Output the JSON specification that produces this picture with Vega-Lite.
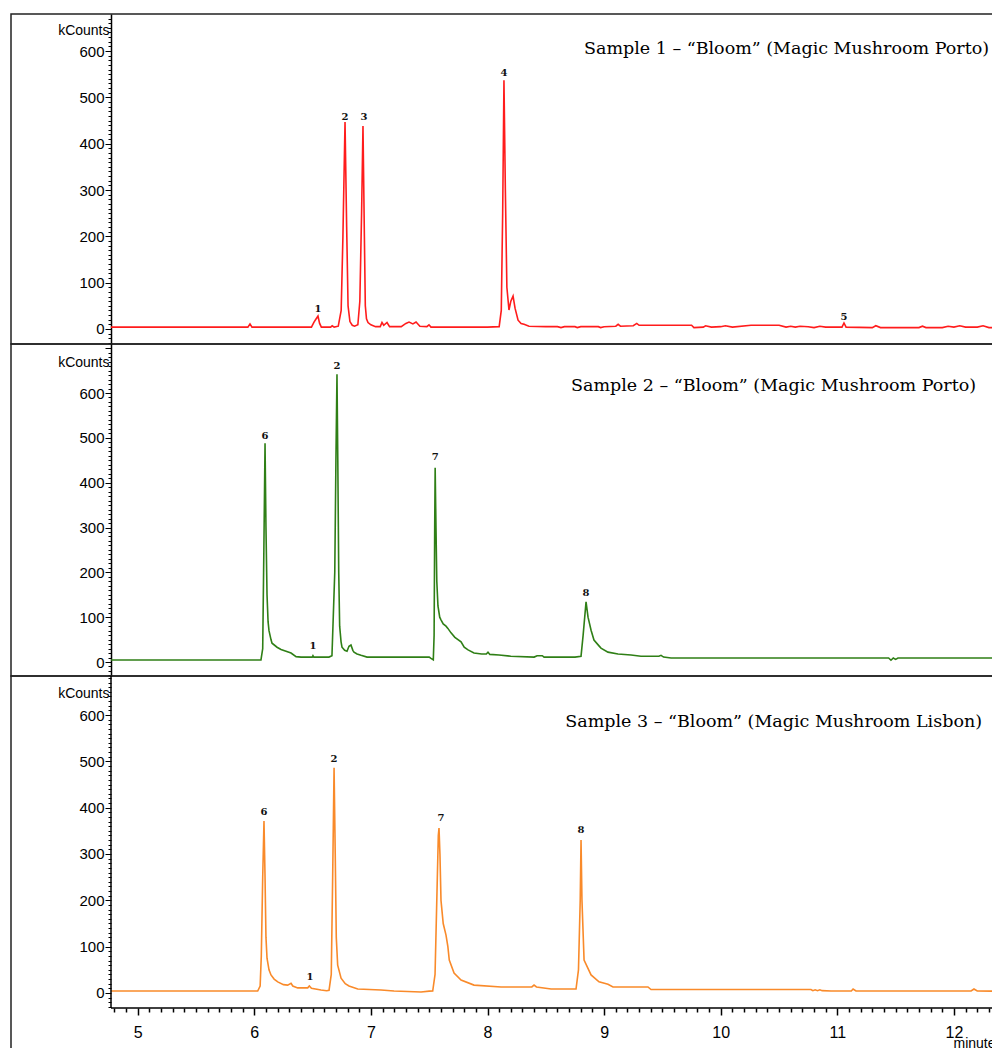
{
  "$schema": "https://vega.github.io/schema/vega-lite/v6.json",
  "padding": {"left": 10, "top": 10, "right": 0, "bottom": 0},
  "spacing": 0,
  "bounds": "flush",
  "config": {
    "view": {"stroke": "#222", "strokeWidth": 1.5},
    "concat": {"spacing": 0}
  },
  "datasets": {
    "s1": [
      {"t":4.771,"v":4},{"t":5.2,"v":4},{"t":5.5,"v":4},{"t":5.945,"v":4},{"t":5.963,"v":11},{"t":5.98,"v":4},{"t":6.3,"v":4},{"t":6.49,"v":4},{"t":6.512,"v":15},{"t":6.525,"v":20},{"t":6.546,"v":28},{"t":6.56,"v":12},{"t":6.575,"v":4},{"t":6.655,"v":4},{"t":6.668,"v":7},{"t":6.685,"v":4},{"t":6.72,"v":6},{"t":6.745,"v":40},{"t":6.76,"v":200},{"t":6.778,"v":447},{"t":6.792,"v":220},{"t":6.804,"v":50},{"t":6.82,"v":16},{"t":6.84,"v":8},{"t":6.86,"v":6},{"t":6.888,"v":9},{"t":6.905,"v":60},{"t":6.92,"v":250},{"t":6.932,"v":438},{"t":6.944,"v":200},{"t":6.952,"v":50},{"t":6.962,"v":22},{"t":6.975,"v":14},{"t":7.0,"v":9},{"t":7.04,"v":5},{"t":7.08,"v":5},{"t":7.095,"v":14},{"t":7.11,"v":8},{"t":7.138,"v":14},{"t":7.16,"v":5},{"t":7.26,"v":5},{"t":7.3,"v":12},{"t":7.327,"v":15},{"t":7.36,"v":11},{"t":7.387,"v":15},{"t":7.42,"v":6},{"t":7.48,"v":5},{"t":7.498,"v":9},{"t":7.515,"v":4},{"t":8.0,"v":4},{"t":8.1,"v":5},{"t":8.118,"v":40},{"t":8.13,"v":250},{"t":8.141,"v":537},{"t":8.153,"v":300},{"t":8.166,"v":90},{"t":8.184,"v":41},{"t":8.2,"v":60},{"t":8.219,"v":71},{"t":8.236,"v":45},{"t":8.262,"v":19},{"t":8.288,"v":12},{"t":8.313,"v":10},{"t":8.356,"v":6},{"t":8.5,"v":5},{"t":8.6,"v":5},{"t":8.63,"v":3},{"t":8.66,"v":5},{"t":8.75,"v":5},{"t":8.77,"v":3},{"t":8.8,"v":5},{"t":8.95,"v":5},{"t":8.97,"v":3},{"t":9.0,"v":5},{"t":9.1,"v":6},{"t":9.12,"v":10},{"t":9.14,"v":6},{"t":9.25,"v":7},{"t":9.28,"v":12},{"t":9.3,"v":8},{"t":9.6,"v":8},{"t":9.75,"v":8},{"t":9.77,"v":3},{"t":9.85,"v":4},{"t":9.87,"v":7},{"t":9.92,"v":4},{"t":10.0,"v":5},{"t":10.04,"v":7},{"t":10.1,"v":4},{"t":10.26,"v":8},{"t":10.5,"v":8},{"t":10.56,"v":4},{"t":10.6,"v":6},{"t":10.64,"v":4},{"t":10.68,"v":6},{"t":10.75,"v":5},{"t":10.8,"v":3},{"t":10.85,"v":6},{"t":10.9,"v":4},{"t":11.04,"v":4},{"t":11.057,"v":13},{"t":11.075,"v":4},{"t":11.3,"v":3},{"t":11.33,"v":7},{"t":11.37,"v":3},{"t":11.7,"v":3},{"t":11.73,"v":6},{"t":11.76,"v":3},{"t":11.9,"v":3},{"t":11.95,"v":6},{"t":12.0,"v":4},{"t":12.05,"v":7},{"t":12.1,"v":4},{"t":12.2,"v":4},{"t":12.25,"v":7},{"t":12.3,"v":3},{"t":12.335,"v":3}
    ],
    "s2": [
      {"t":4.771,"v":4.5},{"t":5.5,"v":4.5},{"t":6.057,"v":4.5},{"t":6.072,"v":30},{"t":6.082,"v":250},{"t":6.092,"v":488},{"t":6.1,"v":300},{"t":6.109,"v":150},{"t":6.118,"v":90},{"t":6.126,"v":70},{"t":6.143,"v":50},{"t":6.152,"v":42},{"t":6.195,"v":33},{"t":6.229,"v":28},{"t":6.272,"v":24},{"t":6.315,"v":20},{"t":6.358,"v":12},{"t":6.401,"v":11},{"t":6.45,"v":11},{"t":6.497,"v":11},{"t":6.503,"v":14},{"t":6.51,"v":11},{"t":6.64,"v":11},{"t":6.666,"v":14},{"t":6.69,"v":200},{"t":6.7,"v":450},{"t":6.709,"v":642},{"t":6.716,"v":450},{"t":6.724,"v":200},{"t":6.732,"v":80},{"t":6.744,"v":45},{"t":6.752,"v":33},{"t":6.775,"v":26},{"t":6.795,"v":24},{"t":6.812,"v":35},{"t":6.829,"v":38},{"t":6.845,"v":26},{"t":6.855,"v":22},{"t":6.881,"v":18},{"t":6.915,"v":15},{"t":6.967,"v":11},{"t":7.1,"v":11},{"t":7.5,"v":11},{"t":7.515,"v":8},{"t":7.535,"v":5},{"t":7.542,"v":60},{"t":7.547,"v":300},{"t":7.551,"v":433},{"t":7.558,"v":300},{"t":7.565,"v":180},{"t":7.575,"v":125},{"t":7.59,"v":100},{"t":7.601,"v":94},{"t":7.62,"v":85},{"t":7.644,"v":80},{"t":7.66,"v":75},{"t":7.687,"v":65},{"t":7.72,"v":55},{"t":7.773,"v":45},{"t":7.8,"v":33},{"t":7.833,"v":27},{"t":7.884,"v":20},{"t":7.95,"v":18},{"t":7.99,"v":18},{"t":8.004,"v":22},{"t":8.02,"v":17},{"t":8.099,"v":15.6},{"t":8.2,"v":13},{"t":8.4,"v":11},{"t":8.425,"v":14},{"t":8.47,"v":14},{"t":8.485,"v":11},{"t":8.75,"v":11},{"t":8.802,"v":13},{"t":8.82,"v":60},{"t":8.845,"v":134},{"t":8.862,"v":100},{"t":8.888,"v":71},{"t":8.913,"v":49},{"t":8.956,"v":36},{"t":8.973,"v":31},{"t":9.033,"v":22},{"t":9.119,"v":17.8},{"t":9.231,"v":15.6},{"t":9.316,"v":13},{"t":9.47,"v":13},{"t":9.488,"v":15},{"t":9.51,"v":11},{"t":9.574,"v":9},{"t":10.5,"v":9},{"t":11.44,"v":9},{"t":11.46,"v":4},{"t":11.48,"v":9},{"t":11.5,"v":6},{"t":11.52,"v":9},{"t":12.335,"v":9}
    ],
    "s3": [
      {"t":4.771,"v":4.3},{"t":5.5,"v":4.3},{"t":6.029,"v":4.3},{"t":6.05,"v":15},{"t":6.06,"v":80},{"t":6.072,"v":250},{"t":6.083,"v":371},{"t":6.092,"v":250},{"t":6.1,"v":120},{"t":6.109,"v":75},{"t":6.126,"v":50},{"t":6.143,"v":39},{"t":6.17,"v":30},{"t":6.201,"v":24},{"t":6.25,"v":18},{"t":6.286,"v":17},{"t":6.315,"v":21},{"t":6.33,"v":15},{"t":6.372,"v":11},{"t":6.458,"v":11},{"t":6.472,"v":15},{"t":6.49,"v":10},{"t":6.572,"v":6.5},{"t":6.62,"v":5},{"t":6.641,"v":6},{"t":6.66,"v":40},{"t":6.672,"v":250},{"t":6.684,"v":486},{"t":6.694,"v":300},{"t":6.703,"v":120},{"t":6.715,"v":60},{"t":6.744,"v":32},{"t":6.78,"v":20},{"t":6.812,"v":15},{"t":6.887,"v":8.6},{"t":7.087,"v":6.5},{"t":7.198,"v":4.3},{"t":7.43,"v":2},{"t":7.5,"v":4},{"t":7.53,"v":4.3},{"t":7.55,"v":40},{"t":7.565,"v":200},{"t":7.578,"v":340},{"t":7.584,"v":356},{"t":7.592,"v":300},{"t":7.601,"v":200},{"t":7.62,"v":150},{"t":7.644,"v":125},{"t":7.66,"v":100},{"t":7.672,"v":71},{"t":7.713,"v":43},{"t":7.773,"v":28},{"t":7.884,"v":17},{"t":8.116,"v":13},{"t":8.38,"v":13},{"t":8.399,"v":17},{"t":8.42,"v":13},{"t":8.545,"v":8.6},{"t":8.759,"v":8.6},{"t":8.78,"v":50},{"t":8.795,"v":200},{"t":8.802,"v":330},{"t":8.81,"v":200},{"t":8.828,"v":71},{"t":8.888,"v":39},{"t":8.956,"v":24},{"t":9.033,"v":19},{"t":9.076,"v":13},{"t":9.376,"v":13},{"t":9.402,"v":7.5},{"t":10.774,"v":7.5},{"t":10.79,"v":5},{"t":10.81,"v":7},{"t":10.83,"v":5},{"t":10.85,"v":7},{"t":10.87,"v":5},{"t":10.946,"v":4.3},{"t":11.12,"v":4.3},{"t":11.135,"v":8.6},{"t":11.16,"v":4.3},{"t":12.147,"v":4.3},{"t":12.172,"v":8.6},{"t":12.2,"v":4.3},{"t":12.335,"v":4}
    ],
    "labels": [
      {"panel":1,"t":6.546,"v":43,"label":"1"},
      {"panel":1,"t":6.778,"v":458,"label":"2"},
      {"panel":1,"t":6.941,"v":458,"label":"3"},
      {"panel":1,"t":8.141,"v":553,"label":"4"},
      {"panel":1,"t":11.057,"v":26,"label":"5"},
      {"panel":2,"t":6.092,"v":504,"label":"6"},
      {"panel":2,"t":6.503,"v":36,"label":"1"},
      {"panel":2,"t":6.709,"v":660,"label":"2"},
      {"panel":2,"t":7.551,"v":457,"label":"7"},
      {"panel":2,"t":8.845,"v":154,"label":"8"},
      {"panel":3,"t":6.083,"v":391,"label":"6"},
      {"panel":3,"t":6.478,"v":35,"label":"1"},
      {"panel":3,"t":6.684,"v":505,"label":"2"},
      {"panel":3,"t":7.601,"v":378,"label":"7"},
      {"panel":3,"t":8.802,"v":352,"label":"8"}
    ],
    "titles": [
      {"panel":1,"t":12.301,"v":604,"label":"Sample 1 – “Bloom” (Magic Mushroom Porto)"},
      {"panel":2,"t":12.19,"v":616,"label":"Sample 2 – “Bloom” (Magic Mushroom Porto)"},
      {"panel":3,"t":12.241,"v":585,"label":"Sample 3 – “Bloom” (Magic Mushroom Lisbon)"}
    ]
  },
  "vconcat": [
    {
      "width": 982, "height": 330,
      "layer": [
        {
          "data": {"name": "s1"},
          "mark": {"type": "line", "color": "#ff1c1c", "strokeWidth": 1.6, "clip": true},
          "encoding": {
            "x": {"field": "t", "type": "quantitative", "scale": {"domain": [3.9134, 12.335], "nice": false, "zero": false}, "axis": null},
            "y": {"field": "v", "type": "quantitative", "scale": {"domain": [-32.4, 679.9], "nice": false, "zero": false},
              "axis": {"title": "kCounts", "titleAngle": 0, "titleAlign": "right", "titleBaseline": "middle", "titleX": -2, "titleY": 16, "titleFont": "Liberation Sans", "titleFontSize": 14, "titleFontWeight": "normal", "titleColor": "#000",
                "offset": -100, "tickCount": 70, "grid": false, "labelOverlap": false, "labelFlush": false,
                "labelExpr": "datum.value % 100 === 0 && datum.value <= 600 ? datum.label : ''",
                "tickSize": {"condition": {"test": "datum.value % 100 === 0", "value": 6}, "value": 3},
                "labelFont": "Liberation Sans", "labelFontSize": 15, "labelColor": "#000", "labelPadding": 1,
                "tickColor": "#000", "domainColor": "#000", "domainWidth": 1.5}}
          }
        },
        {
          "data": {"name": "labels"},
          "transform": [{"filter": "datum.panel == 1"}],
          "mark": {"type": "text", "font": "DejaVu Serif", "fontWeight": "bold", "fontSize": 10, "color": "#111"},
          "encoding": {"x": {"field": "t", "type": "quantitative"}, "y": {"field": "v", "type": "quantitative"}, "text": {"field": "label"}}
        },
        {
          "data": {"name": "titles"},
          "transform": [{"filter": "datum.panel == 1"}],
          "mark": {"type": "text", "align": "right", "baseline": "middle", "font": "DejaVu Serif", "fontSize": 17.5, "color": "#000"},
          "encoding": {"x": {"field": "t", "type": "quantitative"}, "y": {"field": "v", "type": "quantitative"}, "text": {"field": "label"}}
        }
      ]
    },
    {
      "width": 982, "height": 332,
      "layer": [
        {
          "data": {"name": "s2"},
          "mark": {"type": "line", "color": "#2f7f16", "strokeWidth": 1.6, "clip": true},
          "encoding": {
            "x": {"field": "t", "type": "quantitative", "scale": {"domain": [3.9134, 12.335], "nice": false, "zero": false}, "axis": null},
            "y": {"field": "v", "type": "quantitative", "scale": {"domain": [-31.2, 709.3], "nice": false, "zero": false},
              "axis": {"title": "kCounts", "titleAngle": 0, "titleAlign": "right", "titleBaseline": "middle", "titleX": -2, "titleY": 18, "titleFont": "Liberation Sans", "titleFontSize": 14, "titleFontWeight": "normal", "titleColor": "#000",
                "offset": -100, "tickCount": 74, "grid": false, "labelOverlap": false, "labelFlush": false,
                "labelExpr": "datum.value % 100 === 0 && datum.value <= 600 ? datum.label : ''",
                "tickSize": {"condition": {"test": "datum.value % 100 === 0", "value": 6}, "value": 3},
                "labelFont": "Liberation Sans", "labelFontSize": 15, "labelColor": "#000", "labelPadding": 1,
                "tickColor": "#000", "domainColor": "#000", "domainWidth": 1.5}}
          }
        },
        {
          "data": {"name": "labels"},
          "transform": [{"filter": "datum.panel == 2"}],
          "mark": {"type": "text", "font": "DejaVu Serif", "fontWeight": "bold", "fontSize": 10, "color": "#111"},
          "encoding": {"x": {"field": "t", "type": "quantitative"}, "y": {"field": "v", "type": "quantitative"}, "text": {"field": "label"}}
        },
        {
          "data": {"name": "titles"},
          "transform": [{"filter": "datum.panel == 2"}],
          "mark": {"type": "text", "align": "right", "baseline": "middle", "font": "DejaVu Serif", "fontSize": 17.5, "color": "#000"},
          "encoding": {"x": {"field": "t", "type": "quantitative"}, "y": {"field": "v", "type": "quantitative"}, "text": {"field": "label"}}
        }
      ]
    },
    {
      "width": 982, "height": 373,
      "layer": [
        {
          "data": {"name": "s3"},
          "mark": {"type": "line", "color": "#f98a2a", "strokeWidth": 1.6, "clip": true},
          "encoding": {
            "x": {"field": "t", "type": "quantitative", "scale": {"domain": [3.9134, 12.335], "nice": false, "zero": false},
              "axis": {"values": [4.8,4.9,5,5.1,5.2,5.3,5.4,5.5,5.6,5.7,5.8,5.9,6,6.1,6.2,6.3,6.4,6.5,6.6,6.7,6.8,6.9,7,7.1,7.2,7.3,7.4,7.5,7.6,7.7,7.8,7.9,8,8.1,8.2,8.3,8.4,8.5,8.6,8.7,8.8,8.9,9,9.1,9.2,9.3,9.4,9.5,9.6,9.7,9.8,9.9,10,10.1,10.2,10.3,10.4,10.5,10.6,10.7,10.8,10.9,11,11.1,11.2,11.3,11.4,11.5,11.6,11.7,11.8,11.9,12,12.1,12.2,12.3],
                "tickCount": 500,
                "offset": -41, "domain": false, "grid": false, "labelOverlap": false, "labelFlush": false,
                "tickSize": {"condition": {"test": "abs(datum.value - round(datum.value)) < 0.001", "value": 7}, "value": 4},
                "labelExpr": "abs(datum.value - round(datum.value)) < 0.001 ? toString(round(datum.value)) : ''",
                "labelFont": "Liberation Sans", "labelFontSize": 16, "labelColor": "#000", "labelPadding": 9,
                "tickColor": "#000", "tickWidth": 1.5,
                "title": "minutes", "titleX": 942, "titleY": 39, "titleAlign": "left", "titleBaseline": "alphabetic", "titleFont": "Liberation Sans", "titleFontSize": 14, "titleFontWeight": "normal", "titleColor": "#000"}},
            "y": {"field": "v", "type": "quantitative", "scale": {"domain": [-120.9, 684.2], "nice": false, "zero": false},
              "axis": {"title": "kCounts", "titleAngle": 0, "titleAlign": "right", "titleBaseline": "middle", "titleX": -2, "titleY": 17, "titleFont": "Liberation Sans", "titleFontSize": 14, "titleFontWeight": "normal", "titleColor": "#000",
                "offset": -100, "tickCount": 80, "grid": false, "labelOverlap": false, "labelFlush": false, "domain": false,
                "labelExpr": "datum.value % 100 === 0 && datum.value >= 0 && datum.value <= 600 ? datum.label : ''",
                "tickSize": {"condition": {"test": "datum.value % 100 === 0", "value": 6}, "value": 3},
                "tickOpacity": {"condition": {"test": "datum.value < -33", "value": 0}, "value": 1},
                "labelFont": "Liberation Sans", "labelFontSize": 15, "labelColor": "#000", "labelPadding": 1,
                "tickColor": "#000"}}
          }
        },
        {
          "data": {"values": [{"x1": 4.771, "x2": 12.335, "y": -32.4}]},
          "mark": {"type": "rule", "color": "#000", "strokeWidth": 1.5},
          "encoding": {"x": {"field": "x1", "type": "quantitative"}, "x2": {"field": "x2"}, "y": {"field": "y", "type": "quantitative"}}
        },
        {
          "data": {"values": [{"x": 4.771, "y1": -32.4, "y2": 684.2}]},
          "mark": {"type": "rule", "color": "#000", "strokeWidth": 1.5},
          "encoding": {"x": {"field": "x", "type": "quantitative"}, "y": {"field": "y1", "type": "quantitative"}, "y2": {"field": "y2"}}
        },
        {
          "data": {"name": "labels"},
          "transform": [{"filter": "datum.panel == 3"}],
          "mark": {"type": "text", "font": "DejaVu Serif", "fontWeight": "bold", "fontSize": 10, "color": "#111"},
          "encoding": {"x": {"field": "t", "type": "quantitative"}, "y": {"field": "v", "type": "quantitative"}, "text": {"field": "label"}}
        },
        {
          "data": {"name": "titles"},
          "transform": [{"filter": "datum.panel == 3"}],
          "mark": {"type": "text", "align": "right", "baseline": "middle", "font": "DejaVu Serif", "fontSize": 17.5, "color": "#000"},
          "encoding": {"x": {"field": "t", "type": "quantitative"}, "y": {"field": "v", "type": "quantitative"}, "text": {"field": "label"}}
        }
      ]
    }
  ]
}
